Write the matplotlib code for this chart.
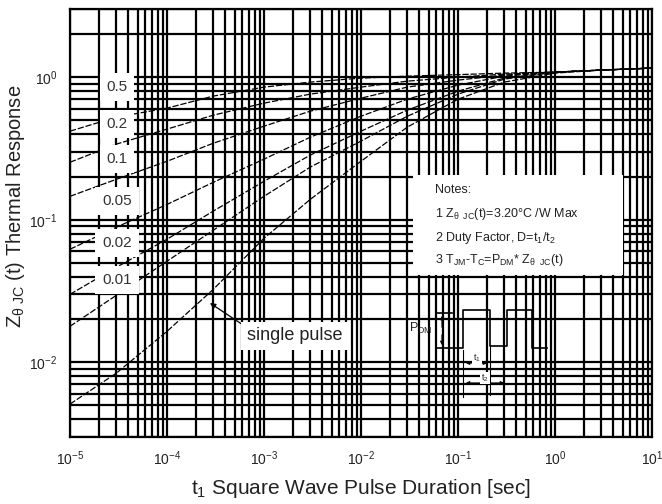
import matplotlib.pyplot as plt
import matplotlib.patches as patches
import numpy as np

plt.rcParams['font.family'] = ['Liberation Sans', 'DejaVu Sans']
plt.rcParams['mathtext.fontset'] = 'custom'
plt.rcParams['mathtext.rm'] = 'Liberation Sans'
plt.rcParams['mathtext.it'] = 'Liberation Sans'

## Data
# pulse duration (sec)
t = [1e-5, 3e-5, 1e-4, 3e-4, 1e-3, 3e-3, 1e-2, 3e-2, 1e-1, 3e-1, 1, 3, 10]
# normalised thermal response for each duty factor
z_05 = [0.418, 0.524, 0.606, 0.736, 0.851, 0.923, 0.984, 1.016, 1.041, 1.067, 1.084, 1.12, 1.157]
z_02 = [0.253, 0.339, 0.432, 0.541, 0.657, 0.760, 0.851, 0.937, 1.0, 1.05, 1.084, 1.12, 1.157]
z_01 = [0.146, 0.192, 0.257, 0.344, 0.453, 0.577, 0.712, 0.851, 0.953, 1.033, 1.084, 1.12, 1.157]
z_005 = [0.0621, 0.0886, 0.128, 0.183, 0.266, 0.379, 0.532, 0.701, 0.879, 1.016, 1.084, 1.12, 1.157]
z_002 = [0.030, 0.0464, 0.073, 0.115, 0.186, 0.284, 0.418, 0.587, 0.797, 0.984, 1.084, 1.12, 1.157]
z_001 = [0.0179, 0.0295, 0.0512, 0.0844, 0.146, 0.234, 0.356, 0.532, 0.760, 0.968, 1.084, 1.12, 1.157]
z_single = [0.0051, 0.0084, 0.0165, 0.0325, 0.0741, 0.139, 0.257, 0.446, 0.70, 0.923, 1.067, 1.12, 1.157]

curves = [z_05, z_02, z_01, z_005, z_002, z_001, z_single]
duty_labels = ['0.5', '0.2', '0.1', '0.05', '0.02', '0.01']
label_y = [0.851, 0.468, 0.266, 0.135, 0.0685, 0.038]  # where the labels sit
label_x = 3.05e-5

xticks = [1e-5, 1e-4, 1e-3, 1e-2, 1e-1, 1, 10]
xticklabels = ['$10^{-5}$', '$10^{-4}$', '$10^{-3}$', '$10^{-2}$', '$10^{-1}$', '$10^{0}$', '$10^{1}$']
yticks = [1e-2, 1e-1, 1]
yticklabels = ['$10^{-2}$', '$10^{-1}$', '$10^{0}$']

fig = plt.figure(figsize=(6.62, 5.04), dpi=100)
ax = fig.add_axes([0.1057, 0.133, 0.8792, 0.849])
ax.set_xscale('log')
ax.set_yscale('log')
ax.set_xlim(1e-5, 10)
ax.set_ylim(3e-3, 3)

# heavy grid on every decade and sub-decade
ax.grid(True, which='both', color='black', linewidth=1.6)
ax.set_axisbelow(True)
for s in ax.spines.values():
    s.set_linewidth(1.6)

for z in curves:
    ax.plot(t, z, color='black', linewidth=0.9, dashes=(5, 1.5), zorder=3)

for lab, y in zip(duty_labels, label_y):
    ax.text(label_x, y, lab, fontsize=11, color='#333333', ha='center', va='center', zorder=5,
            bbox=dict(facecolor='white', edgecolor='none', boxstyle='square,pad=0.45'))

ax.set_xticks(xticks)
ax.set_xticklabels(xticklabels, fontsize=10, color='#222222')
ax.set_yticks(yticks)
ax.set_yticklabels(yticklabels, fontsize=10, color='#222222')
ax.minorticks_on()
ax.tick_params(which='both', length=0)
ax.tick_params(which='minor', labelbottom=False, labelleft=False)
ax.tick_params(axis='x', pad=9)
ax.tick_params(axis='y', pad=9)

ax.set_xlabel('t$_{1}$ Square Wave Pulse Duration [sec]', fontsize=15, color='#222222')
ax.xaxis.set_label_coords(0.5, -0.093)
ax.set_ylabel(r'Z$_{\theta\ \mathrm{JC}}$ (t) Thermal Response', fontsize=14.5, color='#222222')
ax.yaxis.set_label_coords(-0.074, 0.54)

# single pulse label with arrow
ax.annotate('single pulse', xy=(0.2405, 0.313), xytext=(0.386, 0.236), textcoords='axes fraction',
            xycoords='axes fraction', fontsize=13, color='#222222', ha='center', va='center', zorder=6,
            bbox=dict(facecolor='white', edgecolor='none', boxstyle='square,pad=0.3'),
            arrowprops=dict(arrowstyle='-|>', color='black', lw=0.9, shrinkA=0, shrinkB=0,
                            mutation_scale=8, relpos=(0.0, 1.0)))

# notes box
ax.add_patch(patches.Rectangle((0.589, 0.3785), 0.361, 0.2335, transform=ax.transAxes,
                               facecolor='white', edgecolor='none', zorder=5))
notes = ['Notes:',
         r'1 Z$_{\theta\ \ \mathrm{JC}}$(t)=3.20°C /W Max',
         r'2 Duty Factor, D=t$_{1}$/t$_{2}$',
         r'3 T$_{\mathrm{JM}}$-T$_{\mathrm{C}}$=P$_{\mathrm{DM}}$* Z$_{\theta\ \ \mathrm{JC}}$(t)']
notes_y = [0.577, 0.520, 0.466, 0.414]
for line, y in zip(notes, notes_y):
    ax.text(0.628, y, line, transform=ax.transAxes, fontsize=9, color='#222222',
            va='center', ha='left', zorder=6)

# pulse train sketch
def px(X, Y):
    return ((X - 70) / 582.0, (437 - Y) / 428.0)

wave = [(437, 313), (452, 313)]
xs, ys = zip(*[px(*p) for p in wave])
ax.plot(xs, ys, transform=ax.transAxes, color='black', lw=1.2, zorder=6)
wave = [(437, 348), (463, 348), (463, 310), (490, 310), (490, 346), (507, 346),
        (507, 310), (532, 310), (532, 348), (547, 348)]
xs, ys = zip(*[px(*p) for p in wave])
ax.plot(xs, ys, transform=ax.transAxes, color='black', lw=1.2, zorder=6)
# PDM arrows
ax.annotate('', xy=px(442, 313), xytext=px(442, 330), xycoords='axes fraction',
            arrowprops=dict(arrowstyle='-|>', color='black', lw=0.8, mutation_scale=5), zorder=6)
ax.annotate('', xy=px(442, 348), xytext=px(442, 332), xycoords='axes fraction',
            arrowprops=dict(arrowstyle='-|>', color='black', lw=0.8, mutation_scale=5), zorder=6)
ax.text(*px(421, 328), r'P$_{\mathrm{DM}}$', transform=ax.transAxes, fontsize=9, color='#222222',
        ha='center', va='center', zorder=6)
# t1 / t2 markers
for X, Y0, Y1 in [(463, 350, 397), (490, 346, 395)]:
    ax.plot(*zip(px(X, Y0), px(X, Y1)), transform=ax.transAxes, color='black', lw=0.8, zorder=6)
ax.annotate('', xy=px(490, 363), xytext=px(463, 363), xycoords='axes fraction',
            arrowprops=dict(arrowstyle='<|-|>', color='black', lw=0.8, mutation_scale=5), zorder=6)
ax.annotate('', xy=px(507, 383), xytext=px(463, 383), xycoords='axes fraction',
            arrowprops=dict(arrowstyle='<|-|>', color='black', lw=0.8, mutation_scale=5), zorder=6)
ax.text(*px(477, 358), r't$_1$', transform=ax.transAxes, fontsize=6.5, color='#222222',
        ha='center', va='center', zorder=7, bbox=dict(facecolor='white', edgecolor='none', pad=0.5))
ax.text(*px(485, 378), r't$_2$', transform=ax.transAxes, fontsize=6.5, color='#222222',
        ha='center', va='center', zorder=7, bbox=dict(facecolor='white', edgecolor='none', pad=0.5))

fig.savefig('out.png', dpi=100)
